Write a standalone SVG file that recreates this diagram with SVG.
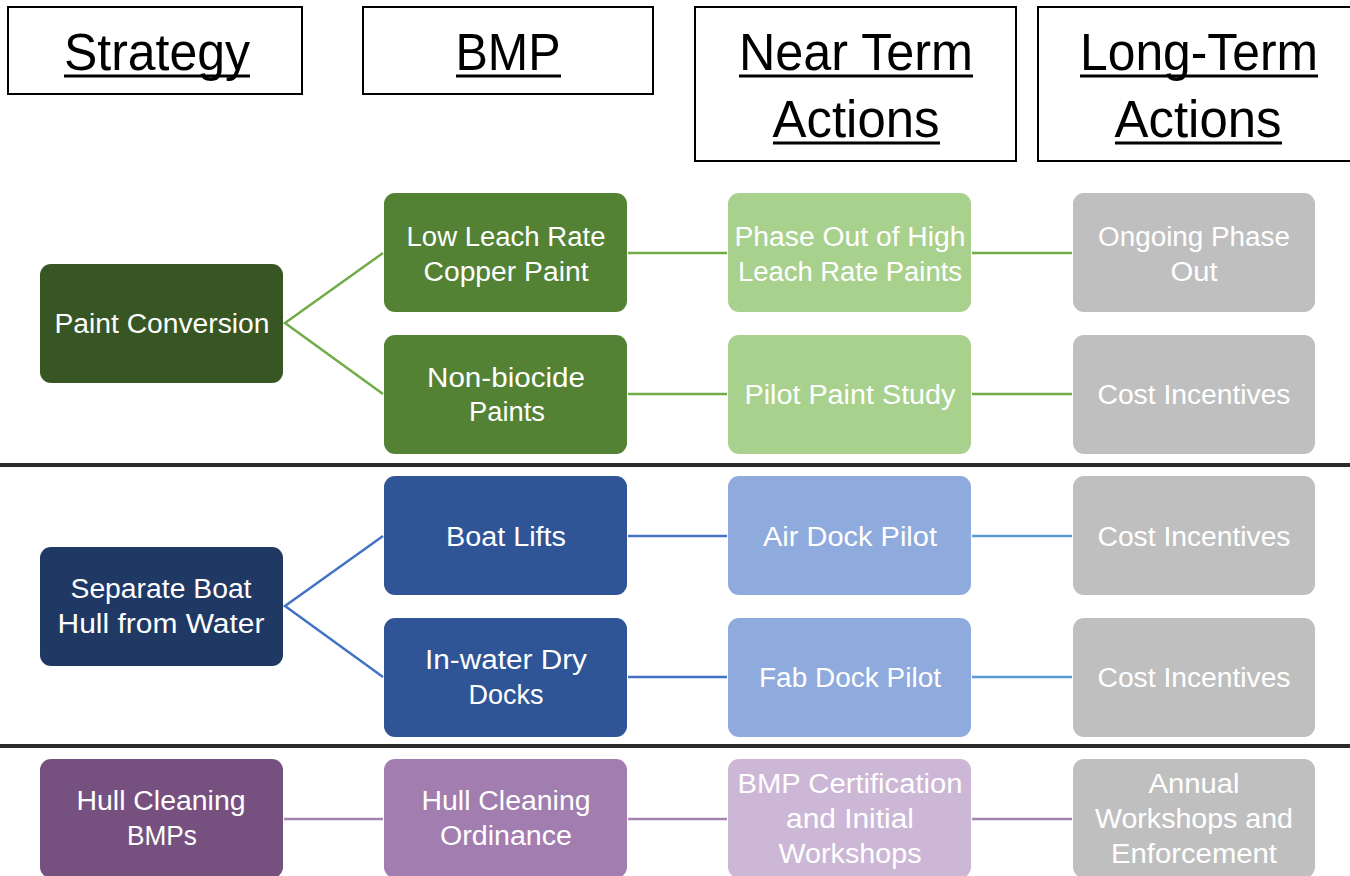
<svg xmlns="http://www.w3.org/2000/svg" width="1350" height="876" viewBox="0 0 1350 876">
<style>
.hdr{fill:#fff;stroke:#000;stroke-width:2}
.ht{font-family:"Liberation Sans",Arial,sans-serif;font-size:51px;fill:#000;text-anchor:middle}
.ul{stroke:#000;stroke-width:3}
.n text{font-family:"Liberation Sans",Arial,sans-serif;font-size:27px;fill:#fff;text-anchor:middle}
.sep{stroke:#2b2b2b;stroke-width:4}
.cg{stroke:#70AD47;stroke-width:2.5;fill:none}
.cb{stroke:#4472C4;stroke-width:2.5;fill:none}
.cl{stroke:#5B9BD5;stroke-width:2.5;fill:none}
.cp{stroke:#A383AC;stroke-width:2.5;fill:none}
</style>
<rect width="1350" height="876" fill="#fff"/>
<g id="headers">
<g id="h-strategy"><rect class="hdr" x="8" y="7" width="294" height="87"/><text class="ht" x="157" y="70" textLength="186" lengthAdjust="spacingAndGlyphs">Strategy</text><line class="ul" x1="64" y1="76" x2="250" y2="76"/></g>
<g id="h-bmp"><rect class="hdr" x="363" y="7" width="290" height="87"/><text class="ht" x="508" y="70" textLength="105" lengthAdjust="spacingAndGlyphs">BMP</text><line class="ul" x1="456" y1="76" x2="561" y2="76"/></g>
<g id="h-near"><rect class="hdr" x="695" y="7" width="321" height="154"/><text class="ht" x="856" y="70" textLength="234" lengthAdjust="spacingAndGlyphs">Near Term</text><line class="ul" x1="739" y1="76" x2="973" y2="76"/><text class="ht" x="856" y="137" textLength="167" lengthAdjust="spacingAndGlyphs">Actions</text><line class="ul" x1="773" y1="143" x2="940" y2="143"/></g>
<g id="h-long"><rect class="hdr" x="1038" y="7" width="320" height="154"/><text class="ht" x="1199" y="70" textLength="238" lengthAdjust="spacingAndGlyphs">Long-Term</text><line class="ul" x1="1080" y1="76" x2="1318" y2="76"/><text class="ht" x="1198" y="137" textLength="167" lengthAdjust="spacingAndGlyphs">Actions</text><line class="ul" x1="1115" y1="143" x2="1282" y2="143"/></g>
</g>
<g id="separators">
<line class="sep" x1="0" y1="465" x2="1350" y2="465"/>
<line class="sep" x1="0" y1="746" x2="1350" y2="746"/>
</g>
<g id="connectors">
<polyline class="cg" points="383,253 285,323 383,394"/>
<line class="cg" x1="628" y1="253" x2="727" y2="253"/>
<line class="cg" x1="972" y1="253" x2="1072" y2="253"/>
<line class="cg" x1="628" y1="394" x2="727" y2="394"/>
<line class="cg" x1="972" y1="394" x2="1072" y2="394"/>
<polyline class="cb" points="383,536 285,606 383,677"/>
<line class="cb" x1="628" y1="536" x2="727" y2="536"/>
<line class="cl" x1="972" y1="536" x2="1072" y2="536"/>
<line class="cb" x1="628" y1="677" x2="727" y2="677"/>
<line class="cl" x1="972" y1="677" x2="1072" y2="677"/>
<line class="cp" x1="284" y1="819" x2="383" y2="819"/>
<line class="cp" x1="628" y1="819" x2="727" y2="819"/>
<line class="cp" x1="972" y1="819" x2="1072" y2="819"/>
</g>
<g id="n-paint-conversion" class="n"><rect x="40" y="264" width="243" height="119" rx="11" fill="#375623"/><text x="162" y="333" textLength="215" lengthAdjust="spacingAndGlyphs">Paint Conversion</text></g>
<g id="n-low-leach" class="n"><rect x="384" y="193" width="243" height="119" rx="11" fill="#548235"/><text x="506" y="246" textLength="199" lengthAdjust="spacingAndGlyphs">Low Leach Rate</text><text x="506" y="281" textLength="165" lengthAdjust="spacingAndGlyphs">Copper Paint</text></g>
<g id="n-non-biocide" class="n"><rect x="384" y="335" width="243" height="119" rx="11" fill="#548235"/><text x="506" y="387" textLength="158" lengthAdjust="spacingAndGlyphs">Non-biocide</text><text x="507" y="421" textLength="76" lengthAdjust="spacingAndGlyphs">Paints</text></g>
<g id="n-phase-out" class="n"><rect x="728" y="193" width="243" height="119" rx="11" fill="#A9D18E"/><text x="850" y="246" textLength="231" lengthAdjust="spacingAndGlyphs">Phase Out of High</text><text x="850" y="281" textLength="224" lengthAdjust="spacingAndGlyphs">Leach Rate Paints</text></g>
<g id="n-pilot-paint" class="n"><rect x="728" y="335" width="243" height="119" rx="11" fill="#A9D18E"/><text x="850" y="404" textLength="211" lengthAdjust="spacingAndGlyphs">Pilot Paint Study</text></g>
<g id="n-ongoing" class="n"><rect x="1073" y="193" width="242" height="119" rx="11" fill="#BFBFBF"/><text x="1194" y="246" textLength="192" lengthAdjust="spacingAndGlyphs">Ongoing Phase</text><text x="1194" y="281" textLength="47" lengthAdjust="spacingAndGlyphs">Out</text></g>
<g id="n-cost-1" class="n"><rect x="1073" y="335" width="242" height="119" rx="11" fill="#BFBFBF"/><text x="1194" y="404" textLength="193" lengthAdjust="spacingAndGlyphs">Cost Incentives</text></g>
<g id="n-separate" class="n"><rect x="40" y="547" width="243" height="119" rx="11" fill="#203864"/><text x="161" y="598" textLength="181" lengthAdjust="spacingAndGlyphs">Separate Boat</text><text x="161" y="633" textLength="207" lengthAdjust="spacingAndGlyphs">Hull from Water</text></g>
<g id="n-boat-lifts" class="n"><rect x="384" y="476" width="243" height="119" rx="11" fill="#2F5597"/><text x="506" y="546" textLength="120" lengthAdjust="spacingAndGlyphs">Boat Lifts</text></g>
<g id="n-in-water" class="n"><rect x="384" y="618" width="243" height="119" rx="11" fill="#2F5597"/><text x="506" y="669" textLength="162" lengthAdjust="spacingAndGlyphs">In-water Dry</text><text x="506" y="704" textLength="75" lengthAdjust="spacingAndGlyphs">Docks</text></g>
<g id="n-air-dock" class="n"><rect x="728" y="476" width="243" height="119" rx="11" fill="#8FAADC"/><text x="850" y="546" textLength="174" lengthAdjust="spacingAndGlyphs">Air Dock Pilot</text></g>
<g id="n-fab-dock" class="n"><rect x="728" y="618" width="243" height="119" rx="11" fill="#8FAADC"/><text x="850" y="687" textLength="182" lengthAdjust="spacingAndGlyphs">Fab Dock Pilot</text></g>
<g id="n-cost-2" class="n"><rect x="1073" y="476" width="242" height="119" rx="11" fill="#BFBFBF"/><text x="1194" y="546" textLength="193" lengthAdjust="spacingAndGlyphs">Cost Incentives</text></g>
<g id="n-cost-3" class="n"><rect x="1073" y="618" width="242" height="119" rx="11" fill="#BFBFBF"/><text x="1194" y="687" textLength="193" lengthAdjust="spacingAndGlyphs">Cost Incentives</text></g>
<g id="n-hull-bmps" class="n"><rect x="40" y="759" width="243" height="119" rx="11" fill="#76517F"/><text x="161" y="810" textLength="169" lengthAdjust="spacingAndGlyphs">Hull Cleaning</text><text x="162" y="845" textLength="70" lengthAdjust="spacingAndGlyphs">BMPs</text></g>
<g id="n-hull-ordinance" class="n"><rect x="384" y="759" width="243" height="119" rx="11" fill="#A27DB0"/><text x="506" y="810" textLength="169" lengthAdjust="spacingAndGlyphs">Hull Cleaning</text><text x="506" y="845" textLength="132" lengthAdjust="spacingAndGlyphs">Ordinance</text></g>
<g id="n-bmp-cert" class="n"><rect x="728" y="759" width="243" height="119" rx="11" fill="#CDB7D6"/><text x="850" y="793" textLength="225" lengthAdjust="spacingAndGlyphs">BMP Certification</text><text x="850" y="828" textLength="128" lengthAdjust="spacingAndGlyphs">and Initial</text><text x="850" y="863" textLength="143" lengthAdjust="spacingAndGlyphs">Workshops</text></g>
<g id="n-annual" class="n"><rect x="1073" y="759" width="242" height="119" rx="11" fill="#BFBFBF"/><text x="1194" y="793" textLength="91" lengthAdjust="spacingAndGlyphs">Annual</text><text x="1194" y="828" textLength="198" lengthAdjust="spacingAndGlyphs">Workshops and</text><text x="1194" y="863" textLength="166" lengthAdjust="spacingAndGlyphs">Enforcement</text></g>
</svg>
